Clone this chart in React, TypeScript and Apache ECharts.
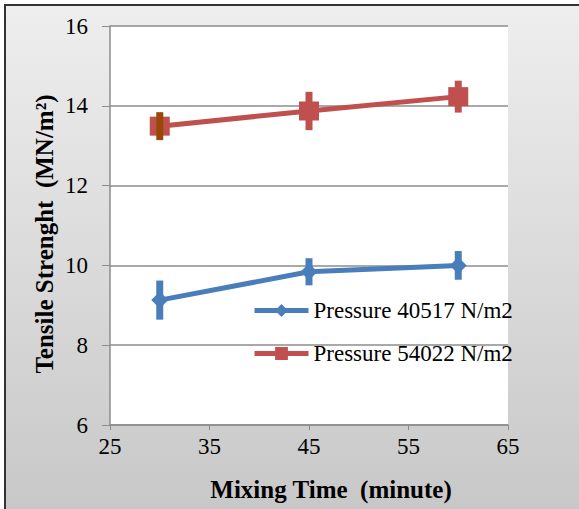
import React, { useEffect, useRef } from "react";
import * as echarts from "echarts";

const mixingTimes = [30, 45, 60];
const tensile40517 = [9.13, 9.84, 10.0];
const error40517 = [0.49, 0.34, 0.36];
const tensile54022 = [13.49, 13.87, 14.23];
const error54022 = [0.35, 0.48, 0.4];
const errorColors54022 = ["#984807", "#c0504d", "#c0504d"];
const seriesNames = ["Pressure 40517 N/m2", "Pressure 54022 N/m2"];
const xTicks = { min: 25, max: 65, interval: 10 };
const yTicks = { min: 6, max: 16, interval: 2 };
const xTitle = "Mixing Time  (minute)";
const yTitle = "Tensile Strenght  (MN/m²)";

const FONT = "Liberation Serif";
const BLUE = "#4a7ebb";
const RED = "#c0504d";

export default function App() {
  const ref = useRef<HTMLDivElement>(null);
  useEffect(() => {
    document.body.style.margin = "0";
    const chart = echarts.init(ref.current!, null, { renderer: "svg" });
    const errData = (vals: number[], errs: number[]) =>
      mixingTimes.map((t, i) => [t, vals[i] - errs[i], vals[i] + errs[i]]);
    const errSeries = (name: string, vals: number[], errs: number[], colors: string[]) => ({
      type: "custom",
      name: name + " err",
      z: 5,
      silent: true,
      data: errData(vals, errs),
      encode: { x: 0, y: [1, 2] },
      renderItem: (params: any, api: any) => {
        const x = api.value(0);
        const p1 = api.coord([x, api.value(1)]);
        const p2 = api.coord([x, api.value(2)]);
        return {
          type: "line",
          shape: { x1: p1[0], y1: p1[1], x2: p2[0], y2: p2[1] },
          style: { stroke: colors[params.dataIndex], lineWidth: 7 },
        };
      },
    });
    const labelStyle = { fontFamily: FONT, fontSize: 23, color: "#000" };
    chart.setOption({
      animation: false,
      graphic: [
        {
          type: "rect",
          z: -10,
          silent: true,
          shape: { x: 5, y: 5, width: 700, height: 700 },
          style: {
            fill: new echarts.graphic.LinearGradient(0, 0, 0, 1, [
              { offset: 0, color: "#eeeeee" },
              { offset: 0.72, color: "#c8c8c8" },
              { offset: 1, color: "#c8c8c8" },
            ]),
            stroke: "#333333",
            lineWidth: 2,
          },
        },
        {
          type: "rect",
          z: -9,
          silent: true,
          shape: { x: 110, y: 26, width: 398, height: 399 },
          style: { fill: "#ffffff" },
        },
        {
          type: "text",
          x: 331,
          y: 489,
          style: {
            text: xTitle,
            font: `bold 25px "${FONT}"`,
            fill: "#000",
            align: "center",
            verticalAlign: "middle",
          },
        },
        {
          type: "text",
          x: 44,
          y: 234,
          rotation: Math.PI / 2,
          style: {
            text: yTitle,
            font: `bold 25px "${FONT}"`,
            fill: "#000",
            align: "center",
            verticalAlign: "middle",
          },
        },
      ],
      grid: { left: 110, right: 71, top: 26, bottom: 84, containLabel: false },
      legend: {
        data: [
          { name: seriesNames[0], itemStyle: { color: BLUE }, lineStyle: { color: BLUE, width: 5 } },
          { name: seriesNames[1], itemStyle: { color: RED }, lineStyle: { color: RED, width: 5 } },
        ],
        orient: "vertical",
        left: 252,
        top: 299,
        padding: 0,
        itemGap: 20,
        itemWidth: 54,
        itemHeight: 16,
        textStyle: { ...labelStyle, lineHeight: 22 },
      },
      xAxis: {
        type: "value",
        min: xTicks.min,
        max: xTicks.max,
        interval: xTicks.interval,
        axisLine: { show: true, lineStyle: { color: "#8c8c8c", width: 1.5 } },
        axisTick: { show: true, length: 5, lineStyle: { color: "#8c8c8c" } },
        splitLine: { show: false },
        axisLabel: { ...labelStyle, margin: 10 },
      },
      yAxis: {
        type: "value",
        min: yTicks.min,
        max: yTicks.max,
        interval: yTicks.interval,
        axisLine: { show: true, lineStyle: { color: "#8c8c8c", width: 1.5 } },
        axisTick: { show: true, length: 8, lineStyle: { color: "#8c8c8c" } },
        splitLine: { show: true, lineStyle: { color: "#8c8c8c", width: 1.5 } },
        axisLabel: { ...labelStyle, margin: 22 },
      },
      series: [
        {
          type: "line",
          name: seriesNames[0],
          data: mixingTimes.map((t, i) => [t, tensile40517[i]]),
          symbol: "diamond",
          symbolSize: 17,
          itemStyle: { color: BLUE },
          lineStyle: { color: BLUE, width: 5 },
          z: 3,
        },
        {
          type: "line",
          name: seriesNames[1],
          data: mixingTimes.map((t, i) => [t, tensile54022[i]]),
          symbol: "rect",
          symbolSize: [20, 19],
          itemStyle: { color: RED },
          lineStyle: { color: RED, width: 5 },
          z: 3,
        },
        errSeries("a", tensile40517, error40517, mixingTimes.map(() => BLUE)),
        errSeries("b", tensile54022, error54022, errorColors54022),
      ],
    });
    return () => chart.dispose();
  }, []);
  return <div ref={ref} style={{ width: 579, height: 509 }} />;
}
